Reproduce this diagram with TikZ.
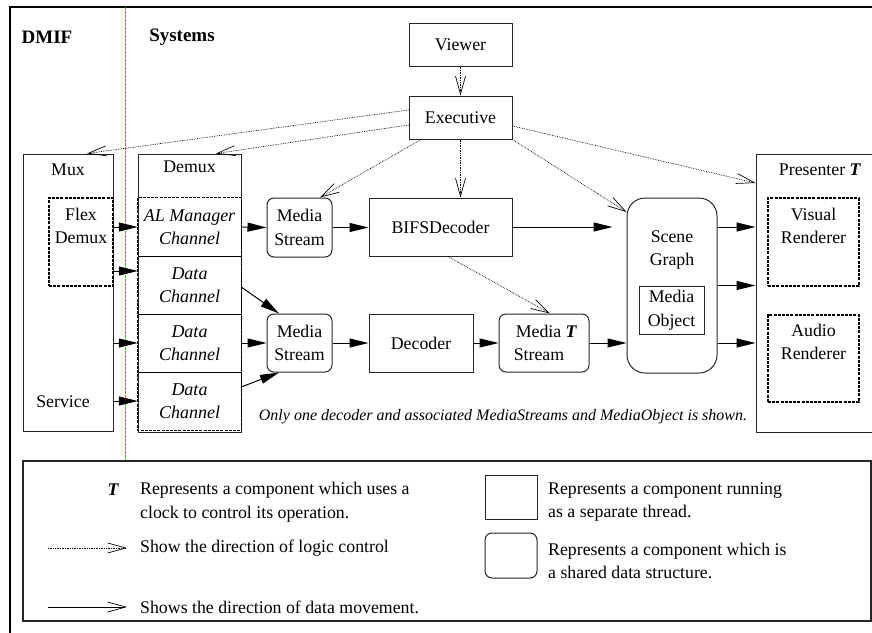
\documentclass[tikz,border=0pt]{standalone}
\usepackage{fontspec}
\setmainfont{Liberation Serif}
\usetikzlibrary{arrows.meta,positioning}
\definecolor{sepgreen}{RGB}{20,200,20}

\begin{document}
\begin{tikzpicture}[x=1pt,y=-1pt,
  every node/.style={font=\fontsize{17.8}{23.5}\selectfont, inner sep=0pt},
  thread/.style={draw=black!85, line width=1pt, rectangle, align=center},
  shared/.style={thread, rounded corners=7pt},
  dashbox/.style={draw=black, line width=1.3pt, dash pattern=on 3pt off 1.2pt},
  chan/.style={align=center, font=\fontsize{18}{23.5}\selectfont\itshape,
               minimum width=103pt, minimum height=58pt},
  tnode/.style={align=center},
  ctrl/.style={densely dotted, line width=0.7pt,
               -{Straight Barb[length=18pt,width=10pt,line width=0.7pt]}},
  flow/.style={line width=1pt, -{Triangle[length=19pt,width=9pt]}}]

\useasboundingbox (0,0) rectangle (872,632);

% frame and separator
\draw [line width=1.5pt] (10,650) -- (10,7) -- (890,7);
\draw [sepgreen, dash pattern=on 3pt off 1pt, line width=0.7pt] (125,7) -- (125,461);

\node [font=\fontsize{19}{23}\selectfont\bfseries] (dmif) at (47,37) {DMIF};
\node [font=\fontsize{19}{23}\selectfont\bfseries] (sys) at (182,37) {Systems};

\node [thread, minimum width=103pt, minimum height=43pt] (viewer) at (460.5,44.5) {Viewer};
\node [thread, minimum width=103pt, minimum height=43pt] (exec) at (460.5,117.5) {Executive};

% Mux
\node [thread, minimum width=90pt, minimum height=277pt] (mux) at (68,292.5) {};
\node [tnode] (muxlbl) at (68,170) {Mux};
\node [dashbox, minimum width=64pt, minimum height=88pt] (flex) at (81,242) {};
\node [tnode] (flexlbl) at (81,226) {Flex\\Demux};
\node [tnode] (service) at (63,402) {Service};

% Demux
\node [thread, minimum width=103pt, minimum height=278pt] (demux) at (189.5,293) {};
\node [tnode] (demuxlbl) at (189.5,167) {Demux};
\node [chan] (ch1) at (189.5,227) {AL Manager\\Channel};
\node [chan] (ch2) at (189.5,285) {Data\\Channel};
\node [chan] (ch3) at (189.5,343) {Data\\Channel};
\node [chan] (ch4) at (189.5,401) {Data\\Channel};
\draw [line width=1.3pt] (ch1.south west) -- (ch1.south east)
      (ch2.south west) -- (ch2.south east)
      (ch3.south west) -- (ch3.south east);
\draw [dashbox] (ch1.north west) rectangle (ch4.south east);

% decoders
\node [shared, minimum width=65pt, minimum height=59pt] (ms1) at (299.5,227.5) {Media\\Stream};
\node [thread, minimum width=143pt, minimum height=58pt] (bifs) at (440.5,227) {BIFSDecoder};
\node [shared, minimum width=65pt, minimum height=58pt] (ms2) at (299.5,343) {Media\\Stream};
\node [thread, minimum width=104pt, minimum height=58pt] (dec) at (421,343) {Decoder};
\node [shared, minimum width=90pt, minimum height=58pt, align=left] (mst) at (544,343)
      {\hspace*{5pt}Media \textbf{\textit{T}}\\\hspace*{3pt}Stream};

\node [shared, rounded corners=18pt, minimum width=90pt, minimum height=175pt] (scene) at (672,285.5) {};
\node [tnode] (scenelbl) at (672,250) {Scene\\Graph};
\node [thread, minimum width=65pt, minimum height=48pt] (mobj) at (671.5,310) {Media\\Object};

% Presenter
\node [thread, minimum width=124pt, minimum height=278pt] (pres) at (818,293) {};
\node [tnode] (preslbl) at (820,170) {Presenter \textbf{\textit{T}}};
\node [dashbox, minimum width=91pt, minimum height=88pt] (vis) at (813.5,242) {};
\node [tnode] (vislbl) at (813.5,226) {Visual\\Renderer};
\node [dashbox, minimum width=91pt, minimum height=87pt] (aud) at (813.5,358.5) {};
\node [tnode] (audlbl) at (813.5,342) {Audio\\Renderer};

\node [font=\fontsize{16}{20}\selectfont\itshape] (note) at (503,417)
      {Only one decoder and associated MediaStreams and MediaObject is shown.};

% logic control
\draw [ctrl] (viewer.south) -- (exec.north);
\draw [ctrl] ([yshift=7.5pt]exec.west) -- ([xshift=19pt]mux.north);
\draw [ctrl] ([yshift=-7.5pt]exec.west) -- ([xshift=26.5pt]demux.north);
\draw [ctrl] ([xshift=-39.5pt]exec.south) -- ([xshift=20.5pt]ms1.north);
\draw [ctrl] (exec.south) -- (exec.south |- bifs.north);
\draw [ctrl] (exec.south east) -- ([yshift=73.5pt]scene.west);
\draw [ctrl] ([yshift=-8.5pt]exec.east) -- ([yshift=110pt]pres.west);
\draw [ctrl] ([xshift=7.5pt]bifs.south) -- ([xshift=6pt]mst.north);

% data movement
\coordinate (in2) at ([yshift=14pt]ch2.west);
\draw [flow] (mux.east |- ch1.west) -- (ch1.west);
\draw [flow] (mux.east |- in2) -- (in2);
\draw [flow] (mux.east |- ch3.west) -- (ch3.west);
\draw [flow] (mux.east |- ch4.west) -- (ch4.west);
\draw [flow] (ch1.east) -- (ms1.west);
\draw [flow] (ms1.east) -- (ms1.east -| bifs.west);
\draw [flow, shorten >=14pt] (bifs.east) -- (bifs.east -| scene.west);
\draw [flow] ([yshift=-2pt]ch2.east) -- ([xshift=-20.5pt]ms2.north);
\draw [flow] (ch3.east) -- (ms2.west);
\draw [flow] ([yshift=14pt]ch4.east) -- ([xshift=-20.5pt]ms2.south);
\draw [flow] (ms2.east) -- (dec.west);
\draw [flow] (dec.east) -- (mst.west);
\draw [flow] (mst.east) -- (mst.east -| scene.west);
\draw [flow] (scene.east |- bifs.east) -- (pres.west |- bifs.east);
\draw [flow] (scene.east) -- (scene.east -| pres.west);
\draw [flow] (scene.east |- mst.east) -- (pres.west |- mst.east);

% legend
\node [draw=black!85, line width=1.3pt, minimum width=848pt, minimum height=160pt] (legend) at (447,541) {};
\node [font=\fontsize{17.8}{23}\selectfont\bfseries\itshape] (tsym) at (113,490) {T};
\node [anchor=west, align=left] (tdesc) at (140,502)
      {Represents a component which uses a\\clock to control its operation.};
\coordinate (c1) at (48,548);
\coordinate (c2) at (127,548);
\draw [ctrl] (c1) -- (c2);
\node [anchor=west] (cdesc) at (140,548) {Show the direction of logic control};
\coordinate (d1) at (48,607);
\coordinate (d2) at (127,607);
\draw [line width=1pt, -{Straight Barb[length=18pt,width=10pt,line width=0.7pt]}] (d1) -- (d2);
\node [anchor=west] (ddesc) at (140,607) {Shows the direction of data movement.};
\node [thread, minimum width=52pt, minimum height=44pt] (keythread) at (511,497) {};
\node [anchor=west, align=left] (kdesc1) at (548,502)
      {Represents a component running\\as a separate thread.};
\node [shared, minimum width=52pt, minimum height=45pt] (keyshared) at (511,555.5) {};
\node [anchor=west, align=left] (kdesc2) at (548,561)
      {Represents a component which is\\a shared data structure.};

\end{tikzpicture}
\end{document}
